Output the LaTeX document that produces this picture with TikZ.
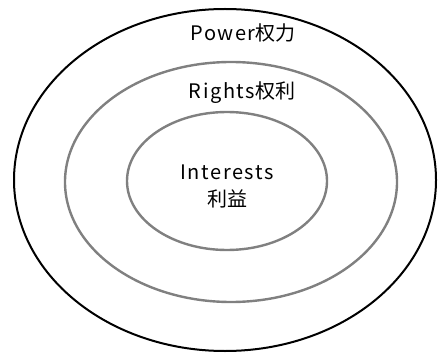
\documentclass[tikz,border=0pt]{standalone}
\usepackage{fontspec}
\setmainfont{Noto Sans CJK SC}
\newfontfamily\latinwide[LetterSpace=8]{Noto Sans CJK SC}
\begin{document}
\begin{tikzpicture}[x=1pt,y=-1pt,
  outerring/.style={draw=black,line width=2pt},
  innerring/.style={draw=black!50,line width=2.4pt},
  lbl/.style={font=\fontsize{20}{27}\selectfont,inner sep=0pt,align=center}]
\useasboundingbox (0,0) rectangle (438,355);
\draw[outerring] (225,180) ellipse [x radius=211, y radius=171];
\draw[innerring] (231,182) ellipse [x radius=166, y radius=120];
\draw[innerring] (227,181) ellipse [x radius=100, y radius=69];
\node[lbl] (power) at (243,33) {{\latinwide Power}权力};
\node[lbl] (rights) at (242,93) {{\latinwide Rights}权利};
\node[lbl] (interests) at (227,186) {{\latinwide Interests}\\利益};
\end{tikzpicture}
\end{document}
